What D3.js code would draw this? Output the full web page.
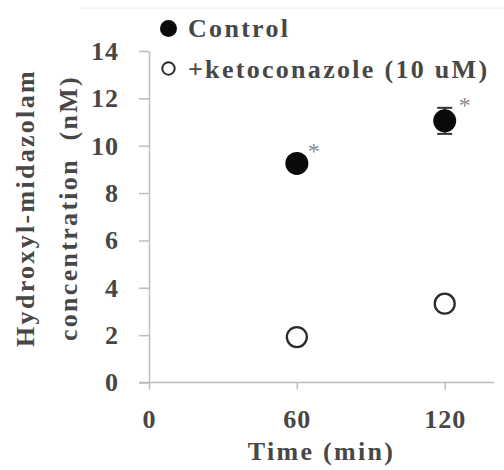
<!DOCTYPE html>
<html>
<head>
<meta charset="utf-8">
<script src="https://cdn.jsdelivr.net/npm/d3@7"></script>
<style>
  body { margin: 0; background: #fff; }
</style>
</head>
<body>
<script>
// data
const times = [60, 120];
const control = [9.25, 11.05];
const controlErr = [0.3, 0.55];
const keto = [1.92, 3.33];
const ketoErr = [0.15, 0.15];
const xTicks = [0, 60, 120];
const yTicks = [0, 2, 4, 6, 8, 10, 12, 14];
const seriesNames = ["Control", "+ketoconazole (10 uM)"];

const width = 504, height = 470;
const fontSize = 26;
const fontFamily = '"Liberation Serif", "Times New Roman", serif';
const textColor = "#474747";
const axisColor = "#bdbdbd";

// serif bold text with the loose spacing of the source
function serif(sel, size) {
  return sel
    .style("font-family", fontFamily)
    .style("font-weight", "bold")
    .style("font-size", (size || fontSize) + "px")
    .style("letter-spacing", "2.3px")
    .style("fill", textColor);
}

const svg = d3.select("body").append("svg")
  .attr("width", width)
  .attr("height", height);

const x = d3.scaleLinear().domain([0, 140]).range([149, 494]);
const y = d3.scaleLinear().domain([0, 14]).range([382.5, 51]);

// faint frame line from the source image
svg.append("line").attr("x1", 80).attr("x2", 504).attr("y1", 8).attr("y2", 8)
  .attr("stroke", "#eeeeee").attr("stroke-width", 1);

// y axis
const yAxis = svg.append("g")
  .attr("transform", `translate(${x(0)},0)`)
  .call(d3.axisLeft(y).tickValues(yTicks).tickSize(10).tickSizeOuter(0).tickPadding(20));

// x axis
const xAxis = svg.append("g")
  .attr("transform", `translate(0,${y(0)})`)
  .call(d3.axisBottom(x).tickValues(xTicks).tickSize(7).tickSizeOuter(0).tickPadding(20));

[yAxis, xAxis].forEach(g => {
  g.select(".domain").attr("stroke", axisColor).attr("stroke-width", 1.5);
  g.selectAll(".tick line").attr("stroke", axisColor).attr("stroke-width", 1.5);
  serif(g.selectAll(".tick text")).style("letter-spacing", "1px");
});
// the x axis line runs out to the left end of the y ticks
xAxis.select(".domain").attr("d", `M${x(0) - 10},0H${x(140)}`);

// axis titles
serif(svg.append("text")
  .attr("x", (x(0) + x(140)) / 2)
  .attr("y", 460)
  .attr("text-anchor", "middle"))
  .text("Time (min)");

const yMid = 208;
serif(svg.append("text")
  .attr("transform", `translate(34,${yMid}) rotate(-90)`)
  .attr("text-anchor", "middle"))
  .text("Hydroxyl-midazolam");
serif(svg.append("text")
  .attr("transform", `translate(77,${yMid}) rotate(-90)`)
  .attr("text-anchor", "middle"))
  .style("white-space", "pre")
  .text("concentration  (nM)");

// error bars
const errData = [
  ...times.map((t, i) => ({ t, v: control[i], e: controlErr[i] })),
  ...times.map((t, i) => ({ t, v: keto[i], e: ketoErr[i] }))
];
const eb = svg.append("g").attr("stroke", "#333").attr("stroke-width", 2);
eb.selectAll("line.v").data(errData).join("line")
  .attr("class", "v")
  .attr("x1", d => x(d.t)).attr("x2", d => x(d.t))
  .attr("y1", d => y(d.v - d.e)).attr("y2", d => y(d.v + d.e));
eb.selectAll("line.cap").data(errData).join("line")
  .attr("class", "cap")
  .attr("x1", d => x(d.t) - 7.5).attr("x2", d => x(d.t) + 7.5)
  .attr("y1", d => y(d.v + d.e)).attr("y2", d => y(d.v + d.e));
eb.selectAll("line.capb").data(errData).join("line")
  .attr("class", "capb")
  .attr("x1", d => x(d.t) - 7.5).attr("x2", d => x(d.t) + 7.5)
  .attr("y1", d => y(d.v - d.e)).attr("y2", d => y(d.v - d.e));

// control markers
svg.selectAll("circle.ctrl").data(times).join("circle")
  .attr("class", "ctrl")
  .attr("cx", d => x(d))
  .attr("cy", (d, i) => y(control[i]))
  .attr("r", 11.5)
  .attr("fill", "#0a0a0a");

// ketoconazole markers
svg.selectAll("circle.keto").data(times).join("circle")
  .attr("class", "keto")
  .attr("cx", d => x(d))
  .attr("cy", (d, i) => y(keto[i]))
  .attr("r", 10)
  .attr("fill", "#fff")
  .attr("stroke", "#2b2b2b")
  .attr("stroke-width", 2.3);

// significance stars
serif(svg.selectAll("text.star").data(times).join("text")
  .attr("class", "star")
  .attr("x", (d, i) => x(d) + 17 + i * 3)
  .attr("y", (d, i) => y(control[i] + controlErr[i] * 0.5) - 1)
  .attr("text-anchor", "middle"), 24)
  .style("fill", "#8a8a8a")
  .style("font-weight", "normal")
  .style("letter-spacing", "0px")
  .text("*");

// legend
const legend = svg.append("g");
legend.append("circle").attr("cx", 168.5).attr("cy", 28.5).attr("r", 8.5).attr("fill", "#0a0a0a");
legend.append("circle").attr("cx", 168.5).attr("cy", 68.5).attr("r", 6.2)
  .attr("fill", "#fff").attr("stroke", "#2b2b2b").attr("stroke-width", 2);
serif(legend.selectAll("text").data(seriesNames).join("text")
  .attr("x", 188)
  .attr("y", (d, i) => 37 + i * 41))
  .text(d => d);
</script>
</body>
</html>
